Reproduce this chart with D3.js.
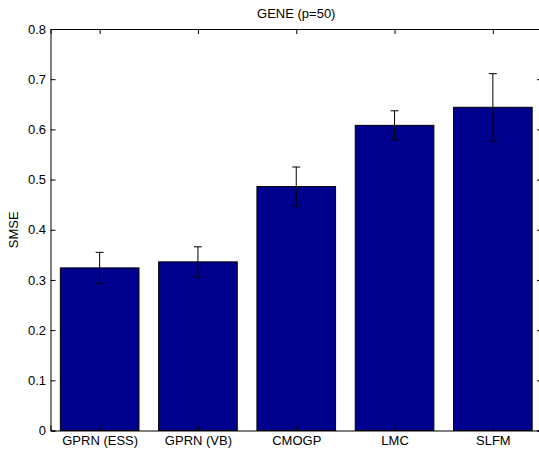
<!DOCTYPE html>
<html>
<head>
<meta charset="utf-8">
<script src="https://cdn.jsdelivr.net/npm/d3@7"></script>
<style>
  body { margin: 0; background: #fff; }
  text { font-family: "Liberation Sans", Arial, sans-serif; font-size: 13px; fill: #000; }
</style>
</head>
<body>
<div class="canva"></div>
<script>
// data
const methods = ["GPRN (ESS)", "GPRN (VB)", "CMOGP", "LMC", "SLFM"];
const smse = [0.324, 0.336, 0.486, 0.608, 0.644];
const errs = [0.031, 0.030, 0.039, 0.029, 0.067];
const yTicks = [0, 0.1, 0.2, 0.3, 0.4, 0.5, 0.6, 0.7, 0.8];

const width = 539, height = 451;
const mLeft = 50.5, mTop = 29, mRight = 542, mBottom = 430.5;

const svg = d3.select(".canva").append("svg")
    .attr("width", width)
    .attr("height", height);

// matlab style: bar centers at 1..5, xlim [0.5, 5.5]
const x = d3.scaleLinear().domain([0.5, 5.5]).range([mLeft, mRight]);
const y = d3.scaleLinear().domain([0, 0.8]).range([mBottom, mTop]);
const barW = x(0.8) - x(0);

// bars
svg.selectAll("rect.bar")
    .data(smse)
    .enter()
    .append("rect")
    .attr("class", "bar")
    .attr("x", (d, i) => x(i + 1) - barW / 2)
    .attr("y", d => y(d))
    .attr("width", barW)
    .attr("height", d => y(0) - y(d))
    .attr("fill", "#00008f")
    .attr("stroke", "#000")
    .attr("stroke-width", 1);

// error bars
const eb = svg.selectAll("g.err")
    .data(smse)
    .enter()
    .append("g")
    .attr("class", "err")
    .attr("stroke", "#000")
    .attr("stroke-width", 1);

eb.append("line")
    .attr("x1", (d, i) => x(i + 1)).attr("x2", (d, i) => x(i + 1))
    .attr("y1", (d, i) => y(d - errs[i])).attr("y2", (d, i) => y(d + errs[i]));
eb.append("line")
    .attr("x1", (d, i) => x(i + 1) - 4).attr("x2", (d, i) => x(i + 1) + 4)
    .attr("y1", (d, i) => y(d + errs[i])).attr("y2", (d, i) => y(d + errs[i]));
eb.append("line")
    .attr("x1", (d, i) => x(i + 1) - 4).attr("x2", (d, i) => x(i + 1) + 4)
    .attr("y1", (d, i) => y(d - errs[i])).attr("y2", (d, i) => y(d - errs[i]));

// axes (ticks pointing inward)
const xPos = methods.map((m, i) => i + 1);

svg.append("g")
    .attr("transform", `translate(0,${mBottom})`)
    .call(d3.axisBottom(x).tickValues(xPos).tickSize(-5).tickPadding(5)
        .tickFormat((d, i) => methods[i]));

svg.append("g")
    .attr("transform", `translate(0,${mTop})`)
    .call(d3.axisTop(x).tickValues(xPos).tickSize(-5).tickFormat(""));

svg.append("g")
    .attr("transform", `translate(${mLeft},0)`)
    .call(d3.axisLeft(y).tickValues(yTicks).tickSize(-5).tickPadding(4.5)
        .tickFormat(d => d === 0 ? "0" : d3.format(".1f")(d)));

svg.append("g")
    .attr("transform", `translate(${mRight},0)`)
    .call(d3.axisRight(y).tickValues(yTicks).tickSize(-5).tickFormat(""));

svg.selectAll(".domain").attr("stroke", "#000").attr("stroke-width", 1);
svg.selectAll(".tick line").attr("stroke", "#000");
svg.selectAll(".tick text").style("font-size", "13px").style("font-family", "Liberation Sans, Arial, sans-serif");

// title and y label
svg.append("text")
    .attr("x", (mLeft + mRight) / 2)
    .attr("y", 18)
    .attr("text-anchor", "middle")
    .text("GENE (p=50)");

svg.append("text")
    .attr("transform", `translate(17.5,${(mTop + mBottom) / 2}) rotate(-90)`)
    .attr("text-anchor", "middle")
    .text("SMSE");
</script>
</body>
</html>
